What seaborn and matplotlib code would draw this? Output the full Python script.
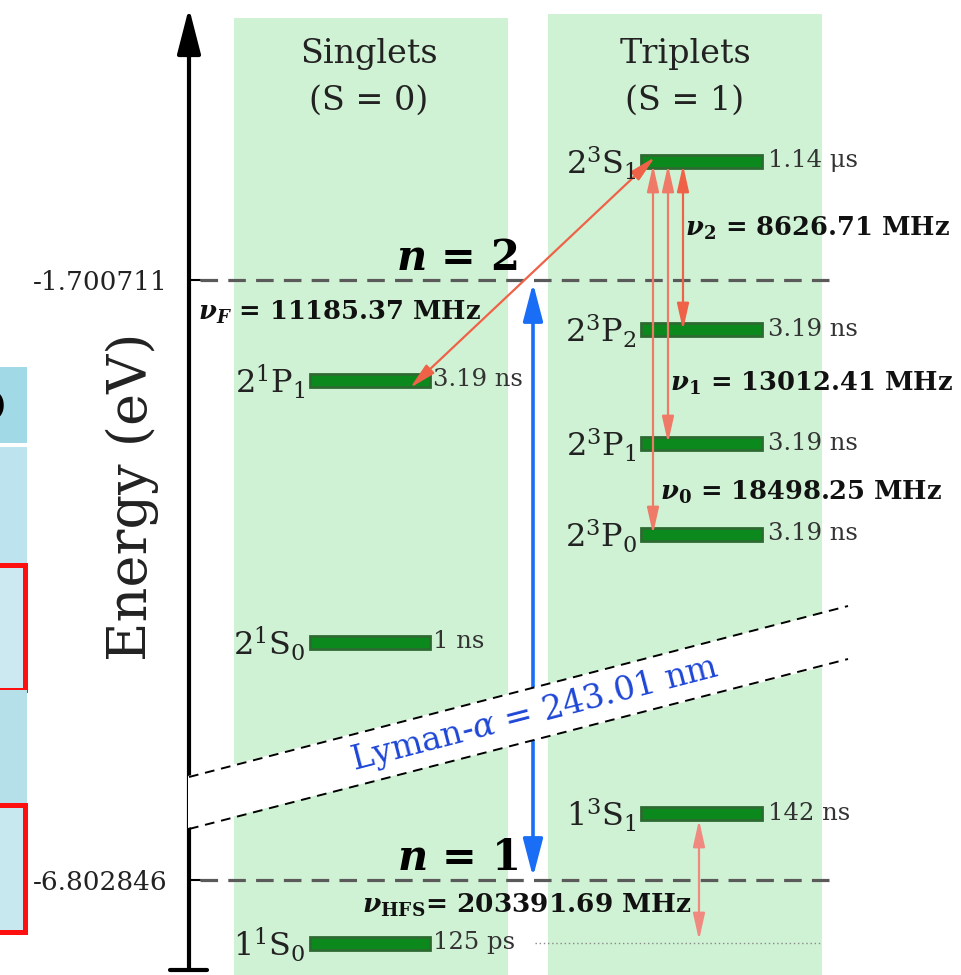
import matplotlib
matplotlib.use("Agg")
import matplotlib.pyplot as plt
from matplotlib.patches import Rectangle, Polygon
import seaborn as sns

# ---- data -------------------------------------------------------------
energy_ticks = [-1.700711, -6.802846]
energy_tick_labels = ["-1.700711", "-6.802846"]
energy_tick_y = [280, 880]              # n = 2 and n = 1 reference lines
n_labels = ["n = 2", "n = 1"]

singlet_states = [r"$2^{1}\mathrm{P}_{1}$", r"$2^{1}\mathrm{S}_{0}$", r"$1^{1}\mathrm{S}_{0}$"]
singlet_y = [380, 642, 943]
singlet_life = ["3.19 ns", "1 ns", "125 ps"]

triplet_states = [r"$2^{3}\mathrm{S}_{1}$", r"$2^{3}\mathrm{P}_{2}$", r"$2^{3}\mathrm{P}_{1}$",
                  r"$2^{3}\mathrm{P}_{0}$", r"$1^{3}\mathrm{S}_{1}$"]
triplet_y = [161, 329, 443, 534, 813]
triplet_life = ["1.14 μs", "3.19 ns", "3.19 ns", "3.19 ns", "142 ns"]

fine_labels = [r"$\mathsf{\nu}_{\mathbf{2}}$ = 8626.71 MHz",
               r"$\mathsf{\nu}_{\mathbf{1}}$ = 13012.41 MHz",
               r"$\mathsf{\nu}_{\mathbf{0}}$ = 18498.25 MHz"]
nu_F_label = r"$\mathsf{\nu}_{\mathsf{F}}$ = 11185.37 MHz"
nu_HFS_label = r"$\mathsf{\nu}_{\mathbf{HFS}}$= 203391.69 MHz"
lyman_label = r"Lyman-$\alpha$ = 243.01 nm"

# ---- style ------------------------------------------------------------
sns.set_theme(style="white")
plt.rcParams["font.family"] = ["DejaVu Serif"]
plt.rcParams["mathtext.fontset"] = "custom"
plt.rcParams["mathtext.rm"] = "DejaVu Serif"
plt.rcParams["mathtext.it"] = "DejaVu Serif:italic"
plt.rcParams["mathtext.bf"] = "DejaVu Serif:bold"
plt.rcParams["mathtext.sf"] = "DejaVu Serif:bold:italic"

PANEL = "#d0f2d4"
BAR = "#0b891c"
BAR_EDGE = "#2d6a32"
RED = "#ef6248"
SALMON = "#f07a68"
BLUE = "#1a6ef5"
TXT = "#222222"

fig = plt.figure(figsize=(9.61, 9.75), dpi=100)
ax = fig.add_axes([0, 0, 1, 1])

# ---- fragment of neighbouring table at the left edge ----------------
ax.add_patch(Rectangle((-5, 367), 32, 76, color="#a2d9e7", lw=0, zorder=1))
ax.add_patch(Rectangle((-5, 447), 32, 118, color="#bde4ee", lw=0, zorder=1))
ax.add_patch(Rectangle((-5, 565), 30, 125, facecolor="#cce9f1", edgecolor="#ff1010", lw=3.6, zorder=1))
ax.add_patch(Rectangle((-5, 690), 32, 115, color="#b5e0ea", lw=0, zorder=1))
ax.add_patch(Rectangle((-5, 805), 30, 127, facecolor="#c8e8f0", edgecolor="#ff1010", lw=3.6, zorder=1))
ax.text(6, 405, ")", ha="right", va="center", fontsize=26, fontweight="bold", color="black", zorder=2)

# ---- panels -----------------------------------------------------------
ax.add_patch(Rectangle((234, 18), 274, 960, color=PANEL, lw=0, zorder=1))
ax.add_patch(Rectangle((548, 14), 274, 964, color=PANEL, lw=0, zorder=1))
ax.text(369, 54, "Singlets", ha="center", va="center", fontsize=24, color=TXT, zorder=5)
ax.text(369, 101, "(S = 0)", ha="center", va="center", fontsize=24, color=TXT, zorder=5)
ax.text(685, 54, "Triplets", ha="center", va="center", fontsize=24, color=TXT, zorder=5)
ax.text(685, 101, "(S = 1)", ha="center", va="center", fontsize=24, color=TXT, zorder=5)

# ---- energy axis ------------------------------------------------------
ax.plot([189, 189], [970, 40], color="black", lw=3.0, zorder=2, solid_capstyle="butt")
ax.annotate("", xy=(189, 5), xytext=(189, 60),
            arrowprops=dict(arrowstyle="-|>,head_length=1.4,head_width=0.36",
                            color="black", lw=3.0, mutation_scale=20), zorder=2)
ax.plot([170, 207], [970, 970], color="black", lw=3.0, zorder=2)
for y, lab in zip(energy_tick_y, energy_tick_labels):
    ax.plot([189, 200], [y, y], color="black", lw=1.5, zorder=2)
    ax.text(168, y + 2, lab, ha="right", va="center", fontsize=19, color=TXT, zorder=5)
ax.text(132, 497, "Energy (eV)", rotation=90, ha="center", va="center", fontsize=39, color=TXT)

# reference dashed lines for n = 2 and n = 1
ref = {"x": [], "y": [], "level": []}
for y, lab in zip(energy_tick_y, n_labels):
    ref["x"] += [200, 830]
    ref["y"] += [y, y]
    ref["level"] += [lab, lab]
sns.lineplot(x=ref["x"], y=ref["y"], units=ref["level"], estimator=None, ax=ax,
             color="#5a5a5a", lw=2.3, linestyle=(0, (5.5, 3.2)), zorder=2, sort=False)
ax.set_xlim(0, 961)
ax.set_ylim(975, 0)
ax.axis("off")
for y, lab in zip(energy_tick_y, n_labels):
    ax.text(457, y - 22, r"$\mathsf{n}$" + lab[1:], ha="center", va="center",
            fontsize=30, fontweight="bold", color="black", zorder=6)

# ---- Lyman-alpha transition -----------------------------------------
ax.annotate("", xy=(533, 283), xytext=(533, 877),
            arrowprops=dict(arrowstyle="<|-|>,head_length=1.15,head_width=0.3",
                            color=BLUE, lw=2.6, mutation_scale=20, shrinkA=0, shrinkB=0), zorder=3)

# ---- levels -----------------------------------------------------------
def draw_levels(names, ys, lifes, x0, x1, gap):
    for name, y, life in zip(names, ys, lifes):
        ax.barh(y, x1 - x0, left=x0, height=13, color=BAR, edgecolor=BAR_EDGE, lw=2.0, zorder=4)
        ax.text(x0 - 4, y + 2, name, ha="right", va="center", fontsize=23, color=TXT, zorder=5)
        ax.text(x1 + gap, y, life, ha="left", va="center", fontsize=17.5, color="#333333", zorder=5)

draw_levels(singlet_states, singlet_y, singlet_life, 310, 430, 3)
draw_levels(triplet_states, triplet_y, triplet_life, 641, 762, 6)

# ---- fine-structure and hyperfine transitions ------------------------
def two_way(x0, y0, x1, y1, color, lw=1.6):
    ax.annotate("", xy=(x1, y1), xytext=(x0, y0),
                arrowprops=dict(arrowstyle="<|-|>,head_length=0.8,head_width=0.18",
                                color=color, lw=lw, mutation_scale=20,
                                shrinkA=0, shrinkB=0), zorder=4.5)

two_way(655, 157, 410, 388, RED)
two_way(683, 165, 683, 330, RED)
two_way(668, 165, 668, 443, SALMON)
two_way(653, 165, 653, 534, SALMON)
two_way(699, 820, 699, 940, "#f08a80")
ax.plot([535, 822], [943, 943], color="#888888", lw=1.0, linestyle=(0, (1, 2)), zorder=2)

for (x, y), lab in zip([(685, 228), (670, 383), (660, 492)], fine_labels):
    ax.text(x, y, lab, ha="left", va="center", fontsize=18.5, fontweight="bold", color="#111111", zorder=6)
ax.text(198, 312, nu_F_label, ha="left", va="center", fontsize=18.5, fontweight="bold", color="#111111", zorder=6)
ax.text(362, 905, nu_HFS_label, ha="left", va="center", fontsize=19, fontweight="bold", color="#111111", zorder=6)

# ---- broken-axis band --------------------------------------------------
band = Polygon([(188, 776), (850, 606), (850, 660), (188, 828)], closed=True,
               facecolor="white", edgecolor="none", zorder=7)
ax.add_patch(band)
ax.plot([189, 848], [777, 606], color="black", lw=1.4, linestyle=(0, (5, 3.5)), zorder=8)
ax.plot([189, 848], [829, 659], color="black", lw=1.4, linestyle=(0, (5, 3.5)), zorder=8)
ax.text(535, 714, lyman_label, rotation=14.5, rotation_mode="anchor", ha="center", va="center",
        fontsize=24, color="#1f47d6", zorder=9)

fig.savefig("out.png", dpi=100)
